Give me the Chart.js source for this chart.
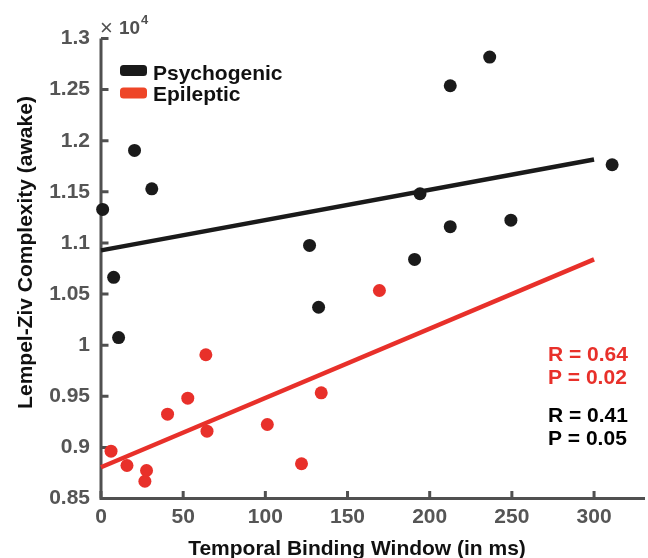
<!DOCTYPE html>
<html><head><meta charset="utf-8">
<script src="https://cdn.jsdelivr.net/npm/chart.js@4.4.0/dist/chart.umd.min.js"></script>
<style>html,body{margin:0;padding:0;background:#fff;}#wrap{width:648px;height:558px;position:relative;}</style>
</head><body><div id="wrap"><canvas id="c" width="648" height="558"></canvas></div>
<script>
// ---- data ----
const seriesNames = ['Psychogenic', 'Epileptic'];
const psychX = [1.0, 7.7, 10.7, 20.4, 30.9, 126.9, 132.4, 190.8, 194.1, 212.5, 212.5, 236.5, 249.4, 311.0];
const psychY = [11328, 10664, 10074, 11905, 11529, 10976, 10371, 10839, 11481, 11159, 12538, 12818, 11223, 11765];
const epiX = [6.1, 15.8, 26.7, 27.7, 40.5, 52.8, 63.8, 64.5, 101.2, 122.0, 134.0, 169.4];
const epiY = [8963, 8823, 8669, 8774, 9325, 9481, 9906, 9159, 9224, 8840, 9534, 10535];
const fitX = [0, 300];
const psychFitY = [10927, 11817];
const epiFitY = [8806, 10839];
const xTicks = [0, 50, 100, 150, 200, 250, 300];
const yTicks = [8500, 9000, 9500, 10000, 10500, 11000, 11500, 12000, 12500, 13000];
const yTickLabels = ['0.85', '0.9', '0.95', '1', '1.05', '1.1', '1.15', '1.2', '1.25', '1.3'];
const xTitle = 'Temporal Binding Window (in ms)';
const yTitle = 'Lempel-Ziv Complexity (awake)';
const epiStats = ['R = 0.64', 'P = 0.02'];
const psychStats = ['R = 0.41', 'P = 0.05'];

const BLACK = '#1a1a1a', RED = '#e8302a', LEGRED = '#ee4527', AXIS = '#505050';
const FONT = '"Liberation Sans", Arial, Helvetica, sans-serif';

const pts = (xs, ys) => xs.map((x, i) => ({x: x, y: ys[i]}));

const decor = {
  id: 'decor',
  beforeDatasetsDraw(chart) {
    const ctx = chart.ctx, xs = chart.scales.x, ys = chart.scales.y, a = chart.chartArea;
    ctx.save();
    ctx.strokeStyle = AXIS; ctx.lineWidth = 3; ctx.lineJoin = 'miter'; ctx.lineCap = 'butt';
    ctx.beginPath();
    ctx.moveTo(a.left, a.top); ctx.lineTo(a.left, a.bottom); ctx.lineTo(a.right, a.bottom);
    ctx.stroke();
    ctx.beginPath();
    xTicks.forEach(v => { const px = xs.getPixelForValue(v); ctx.moveTo(px, a.bottom); ctx.lineTo(px, a.bottom - 7.5); });
    yTicks.forEach(v => { const py = ys.getPixelForValue(v); ctx.moveTo(a.left, py); ctx.lineTo(a.left + 7.5, py); });
    ctx.stroke();
    ctx.restore();
  },
  afterDraw(chart) {
    const ctx = chart.ctx;
    ctx.save();
    // axis titles
    ctx.fillStyle = '#111';
    ctx.font = 'bold 21px ' + FONT;
    ctx.textAlign = 'center'; ctx.textBaseline = 'alphabetic';
    ctx.fillText(xTitle, 357, 555);
    ctx.save();
    ctx.translate(32, 252.5); ctx.rotate(-Math.PI / 2);
    ctx.fillText(yTitle, 0, 0);
    ctx.restore();
    // exponent
    ctx.fillStyle = AXIS; ctx.textAlign = 'left';
    ctx.font = '22px ' + FONT;
    ctx.fillText('\u00d7', 100, 35);
    ctx.font = 'bold 19px ' + FONT;
    ctx.fillText('10', 119, 34);
    ctx.font = 'bold 13px ' + FONT;
    ctx.fillText('4', 141, 24);
    // legend
    const leg = [[BLACK, 65, 80], [LEGRED, 87.5, 101]];
    leg.forEach((l, i) => {
      ctx.fillStyle = l[0];
      ctx.beginPath();
      ctx.roundRect(120, l[1], 27, 11, 3.5);
      ctx.fill();
      ctx.fillStyle = '#111';
      ctx.font = 'bold 21px ' + FONT;
      ctx.fillText(seriesNames[i], 153, l[2]);
    });
    // stats
    ctx.font = 'bold 21px ' + FONT;
    ctx.fillStyle = RED;
    ctx.fillText(epiStats[0], 548, 361);
    ctx.fillText(epiStats[1], 548, 384);
    ctx.fillStyle = '#000';
    ctx.fillText(psychStats[0], 548, 422);
    ctx.fillText(psychStats[1], 548, 445);
    ctx.restore();
  }
};

new Chart(document.getElementById('c'), {
  type: 'scatter',
  data: {
    datasets: [
      {label: seriesNames[0] + ' fit', type: 'line', data: pts(fitX, psychFitY), borderColor: BLACK, borderWidth: 4.5,
        pointRadius: 0, fill: false, showLine: true, order: 3, clip: false},
      {label: seriesNames[1] + ' fit', type: 'line', data: pts(fitX, epiFitY), borderColor: RED, borderWidth: 4.5,
        pointRadius: 0, fill: false, showLine: true, order: 3, clip: false},
      {label: seriesNames[0], data: pts(psychX, psychY), backgroundColor: BLACK, borderWidth: 0,
        pointRadius: 6.5, pointHoverRadius: 6.5, order: 1, clip: false},
      {label: seriesNames[1], data: pts(epiX, epiY), backgroundColor: RED, borderWidth: 0,
        pointRadius: 6.5, pointHoverRadius: 6.5, order: 2, clip: false}
    ]
  },
  options: {
    responsive: false, animation: false,
    layout: {autoPadding: false, padding: {left: 0, right: 3, top: 38.5, bottom: 0}},
    plugins: {legend: {display: false}, tooltip: {enabled: false}, title: {display: false}},
    scales: {
      x: {
        type: 'linear', min: 0, max: 331,
        grid: {display: false, drawTicks: false},
        border: {display: false},
        afterBuildTicks: s => { s.ticks = xTicks.map(v => ({value: v})); },
        afterFit: s => { s.height = 59.5; s.paddingLeft = 0; s.paddingRight = 0; },
        ticks: {color: '#555', padding: 6, font: {family: FONT, size: 21, weight: 'bold'}, maxRotation: 0,
          callback: v => String(v)}
      },
      y: {
        type: 'linear', min: 8500, max: 13000,
        grid: {display: false, drawTicks: false},
        border: {display: false},
        afterBuildTicks: s => { s.ticks = yTicks.map(v => ({value: v})); },
        afterFit: s => { s.width = 101; s.paddingTop = 0; s.paddingBottom = 0; },
        ticks: {color: '#555', padding: 11, font: {family: FONT, size: 21, weight: 'bold'},
          callback: v => yTickLabels[yTicks.indexOf(v)]}
      }
    }
  },
  plugins: [decor]
});
</script></body></html>
